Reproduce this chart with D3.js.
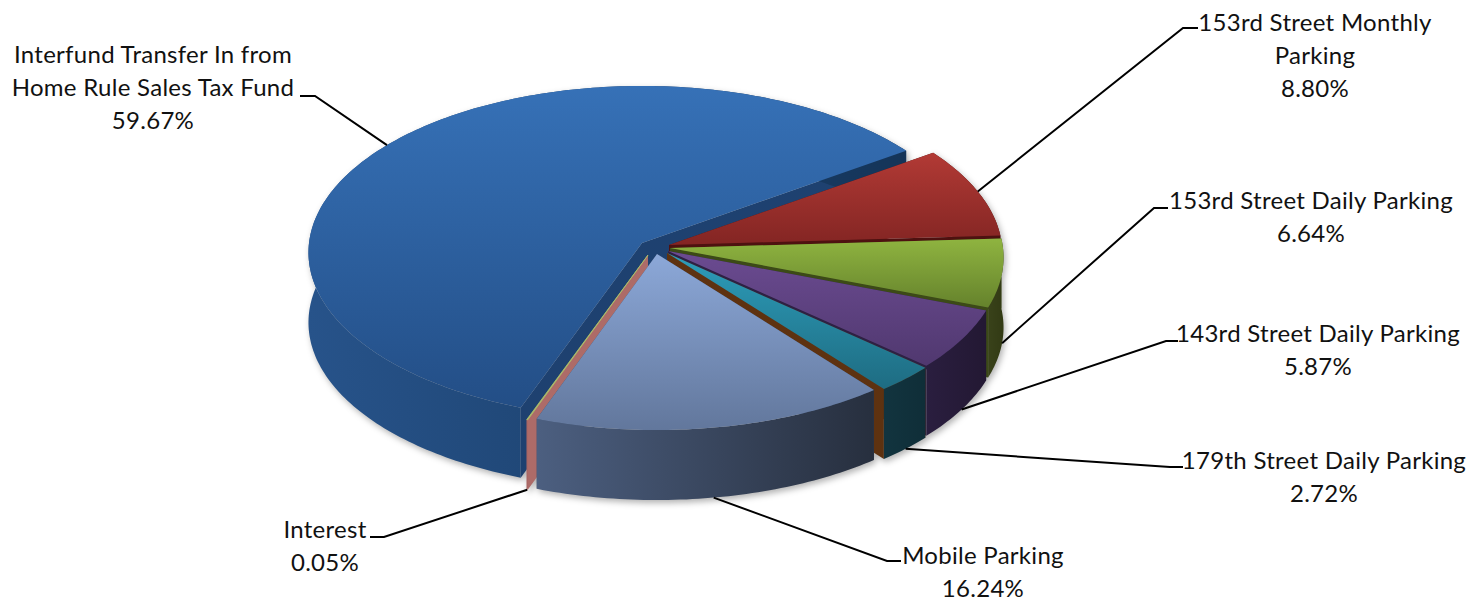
<!DOCTYPE html>
<html>
<head>
<meta charset="utf-8">
<script src="https://cdnjs.cloudflare.com/ajax/libs/d3/7.8.5/d3.min.js"></script>
<style>
html,body{margin:0;padding:0;background:#fff;overflow:hidden}
text{font-family:Lato,"Open Sans",sans-serif;font-size:24px;letter-spacing:.28px;fill:#111}
</style>
</head>
<body>
<svg id="c" width="1475" height="602"></svg>
<script>
// data (clockwise, starting from the first slice after the large blue one)
const categories = ["153rd Street Monthly Parking","153rd Street Daily Parking","143rd Street Daily Parking","179th Street Daily Parking","Mobile Parking","Interest","Interfund Transfer In from Home Rule Sales Tax Fund"];
const values = [8.80,6.64,5.87,2.72,16.24,0.05,59.67];
const valueLabels = ["8.80%","6.64%","5.87%","2.72%","16.24%","0.05%","59.67%"];
const labelLines = [["153rd Street Monthly","Parking"],["153rd Street Daily Parking"],["143rd Street Daily Parking"],["179th Street Daily Parking"],["Mobile Parking"],["Interest"],["Interfund Transfer In from","Home Rule Sales Tax Fund"]];

// styling / layout
const topColors = [["#b23a35","#832523"],["#8fb440","#65822c"],["#6b4b91","#50386f"],["#2d9dba","#1e6c82"],["#8ca8d8","#62779c"],["#a9c06a","#a9c06a"],["#3671b7","#234e86"]];
const wallColors = [["#4d1210","#4d1210"],["#39421a","#323a14"],["#2a1e3f","#231833"],["#12343f","#0f2e38"],["#4c5f80","#272f3e"],["#a86663","#a86663"],["#27538a","#143458"]];
const edgeColors = ["#4e1110","#3c4a17","#2e2143","#5e3210","#3a4a66","#ad6b68","#1e4170"];
const apexes = [[669,245],[670,248],[668,251],[667,253],[657,254],[648,255],[642,243]];
const labelAnchors = [[1315,31],[1311,209],[1318,342],[1324,469],[983,564],[325,538],[153,63]];
const elbows = [[[1183,28],[1198,28]],[[1154,208],[1168,208]],[[1166,341],[1178,341]],[[1170,467],[1183,467]],[[887,561],[901,561]],[[384,537],[370,537]],[[315,96],[300,96]]];
const lineHeight = 33;
const startDeg = 55, depth = 70, Rx = 333, Ry = 166, persp = 0.057;

const svg = d3.select("#c");
const defs = svg.append("defs");
const pie = d3.pie().sort(null).value(d=>d).startAngle(startDeg*Math.PI/180).endAngle(startDeg*Math.PI/180+2*Math.PI);
const arcs = pie(values);

function project(i,a,dy=0){
  const X=Math.sin(a), Y=-Math.cos(a), s=1/(1-persp*Y);
  return [apexes[i][0]+Rx*X*s, apexes[i][1]+Ry*Y*s+dy];
}
const line = d3.line();
const rim = (i,d,dy=0)=>{
  const n=Math.max(2,Math.ceil((d.endAngle-d.startAngle)*180/Math.PI));
  return d3.range(n+1).map(k=>project(i,d.startAngle+(d.endAngle-d.startAngle)*k/n,dy));
};

arcs.forEach((d,i)=>{
  const t=defs.append("linearGradient").attr("id","top"+i).attr("x1",0).attr("y1",0).attr("x2",0).attr("y2",1);
  t.append("stop").attr("offset",0).attr("stop-color",topColors[i][0]);
  t.append("stop").attr("offset",1).attr("stop-color",topColors[i][1]);
  const w=defs.append("linearGradient").attr("id","wall"+i).attr("x1",0).attr("y1",0).attr("x2",1).attr("y2",0);
  w.append("stop").attr("offset",0).attr("stop-color",wallColors[i][0]);
  w.append("stop").attr("offset",1).attr("stop-color",wallColors[i][1]);
});

const pieG = svg.append("g").style("filter","drop-shadow(2px 3px 3px rgba(0,0,0,.3))");
const order = [6,0,1,2,3,5,4];
order.forEach(i=>{
  const d=arcs[i], g=pieG.append("g").attr("class","slice");
  const ap=apexes[i], down=p=>[p[0],p[1]+depth];
  const r=rim(i,d), rd=rim(i,d,depth);
  [r[0],r[r.length-1]].forEach(p=>{
    g.append("path").attr("d",line([ap,p,down(p),down(ap)])+"Z").attr("fill",edgeColors[i]);
  });
  g.append("path").attr("d",line(r.concat(rd.slice().reverse()))+"Z").attr("fill",`url(#wall${i})`);
  g.append("path").attr("d",line([ap].concat(r))+"Z").attr("fill",`url(#top${i})`)
    .attr("stroke",i===5?"#a9c06a":"none").attr("stroke-width",i===5?0.8:0);
});

// leader lines and labels
const lab = svg.append("g");
arcs.forEach((d,i)=>{
  const mid=(d.startAngle+d.endAngle)/2;
  const front=-Math.cos(mid)>0;
  const start=project(i,mid,front?depth:0);
  lab.append("path").attr("d",line([start].concat(elbows[i]))).attr("fill","none").attr("stroke","#000").attr("stroke-width",2);
  const lines=labelLines[i].concat([valueLabels[i]]);
  const t=lab.append("text").attr("text-anchor","middle");
  lines.forEach((s,k)=>t.append("tspan").attr("x",labelAnchors[i][0]).attr("y",labelAnchors[i][1]+k*lineHeight).text(s));
});
</script>
</body>
</html>
